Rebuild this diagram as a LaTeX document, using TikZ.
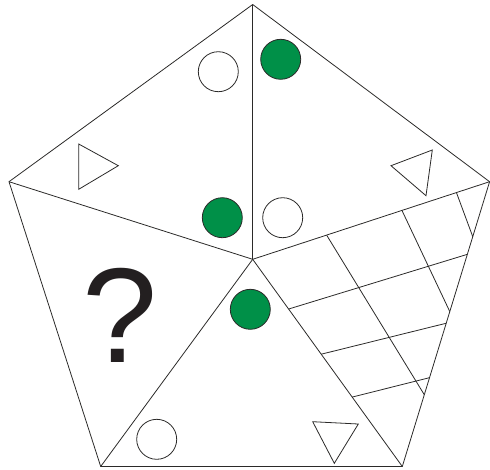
\documentclass[tikz,border=0pt]{standalone}
\usepackage{fontspec}
\setmainfont{Liberation Sans}
\usetikzlibrary{calc}
\definecolor{ink}{HTML}{2B2A29}
\definecolor{leaf}{HTML}{009048}
\definecolor{qmark}{HTML}{231F20}

\begin{document}
\begin{tikzpicture}[x=1pt, y=-1pt, line width=0.8pt,
    spot/.style={circle, draw=ink, line width=0.8pt, minimum size=40pt, inner sep=0pt},
    tri/.style={draw=ink, line width=0.8pt, line join=miter}]
  \useasboundingbox (0,0) rectangle (490,469);
  % pentagon corners and centre
  \coordinate (top) at (252.7,4.5);
  \coordinate (right) at (489.6,181.7);
  \coordinate (bright) at (402.3,466.5);
  \coordinate (bleft) at (100.7,466.5);
  \coordinate (left) at (9,181.7);
  \coordinate (centre) at (252.7,259.3);
  \draw[ink] (top) -- (right) -- (bright) -- (bleft) -- (left) -- cycle;
  \foreach \v in {top,right,bright,bleft,left}
    \draw[ink] (centre) -- (\v);
  % grid in the lower right sector
  \foreach \t/\s in {0.312/0.748, 0.630/0.456, 0.860/0.193}
    \draw[ink] ($(centre)!\t!(right)$) -- ($(right)!\s!(bright)$);
  \foreach \u/\s in {0.240/0.255, 0.458/0.497, 0.665/0.688}
    \draw[ink] ($(centre)!\u!(bright)$) -- ($(right)!\s!(bright)$);
  % circles
  \node[spot, fill=white] (wtop) at (218.3,71.7) {};
  \node[spot, fill=leaf] (gtop) at (280.7,59.3) {};
  \node[spot, fill=leaf] (gmid) at (222.3,217.7) {};
  \node[spot, fill=white] (wmid) at (282.7,217.7) {};
  \node[spot, fill=leaf] (gbot) at (250.3,309.3) {};
  \node[spot, fill=white] (wbot) at (156.7,439.3) {};
  % triangles
  \draw[tri] (78.7,144) -- (118.3,165.7) -- (78.7,189.3) -- cycle;
  \draw[tri] (391,165.7) -- (432.3,150) -- (426,195.7) -- cycle;
  \draw[tri] (312.7,421.7) -- (358.3,424) -- (334.3,463.3) -- cycle;
  % the missing piece
  \node[font=\fontsize{135}{135}\selectfont, text=qmark, inner sep=0pt] (quest) at (120,315) {?};
\end{tikzpicture}
\end{document}
